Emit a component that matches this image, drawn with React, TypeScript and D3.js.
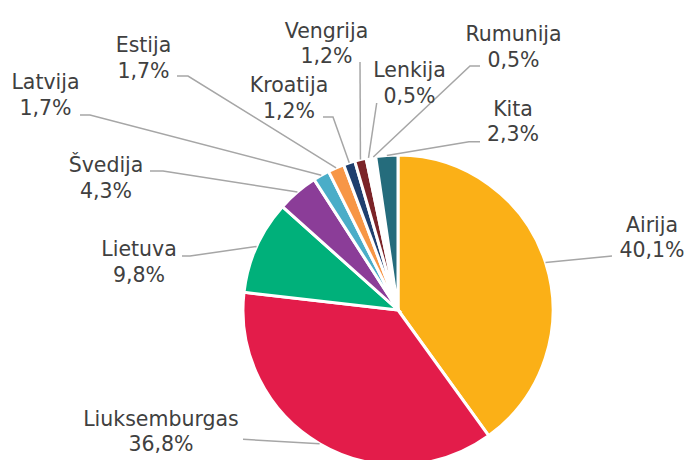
import React from "react";
import * as d3 from "d3";

const categories = ["Airija", "Liuksemburgas", "Lietuva", "Švedija", "Latvija", "Estija", "Kroatija", "Vengrija", "Lenkija", "Rumunija", "Kita"];
const values = [40.1, 36.8, 9.8, 4.3, 1.7, 1.7, 1.2, 1.2, 0.5, 0.5, 2.3];
const valueLabels = ["40,1%", "36,8%", "9,8%", "4,3%", "1,7%", "1,7%", "1,2%", "1,2%", "0,5%", "0,5%", "2,3%"];
const colors = ["#FBB017", "#E31C4A", "#00B07A", "#8B3D98", "#4AADC8", "#F79646", "#1F3F6E", "#7B2428", "#FFFFFF", "#FFFFFF", "#256C7C"];

// label layout: text center x, first baseline y, leader points from label side
const labelLayout: { x: number; y: number; pts: [number, number][] }[] = [
  { x: 652, y: 231.7, pts: [[612, 256]] },
  { x: 161, y: 425.7, pts: [[243, 439.3]] },
  { x: 139, y: 256, pts: [[182, 256], [190, 256]] },
  { x: 106, y: 172, pts: [[150, 171], [163, 171]] },
  { x: 45.5, y: 89, pts: [[80, 115], [90, 115]] },
  { x: 143.5, y: 52, pts: [[177, 76], [188, 76]] },
  { x: 289, y: 92, pts: [[323, 117], [333, 117]] },
  { x: 326.5, y: 37.5, pts: [[360, 62]] },
  { x: 409.5, y: 77, pts: [[376.7, 103]] },
  { x: 513.5, y: 41, pts: [[480, 66], [470, 66]] },
  { x: 513, y: 115.5, pts: [[480, 141.7], [469, 141.7]] },
];

const W = 689;
const H = 460;
const cx = 398;
const cy = 310;
const R = 155;

export default function App() {
  const data = categories.map((c, i) => ({ name: c, value: values[i], label: valueLabels[i], color: colors[i] }));
  const pie = d3.pie<typeof data[0]>().value((d) => d.value).sort(null);
  const arcs = pie(data);
  const arcGen = d3.arc<d3.PieArcDatum<typeof data[0]>>().innerRadius(0).outerRadius(R);
  const line = d3.line();

  return (
    <svg width={W} height={H} style={{ position: "absolute", left: 0, top: 0, background: "#fff" }}>
      <g transform={`translate(${cx},${cy})`}>
        {arcs.map((a, i) => (
          <path key={i} d={arcGen(a) || ""} fill={a.data.color} stroke="#fff" strokeWidth={3} strokeLinejoin="miter" />
        ))}
      </g>
      {arcs.map((a, i) => {
        const mid = (a.startAngle + a.endAngle) / 2;
        const px = cx + R * Math.sin(mid);
        const py = cy - R * Math.cos(mid);
        const L = labelLayout[i];
        const pts: [number, number][] = [...L.pts, [px, py]];
        return (
          <path key={"l" + i} d={line(pts) || ""} fill="none" stroke="#A6A6A6" strokeWidth={1.5} />
        );
      })}
      {arcs.map((a, i) => {
        const L = labelLayout[i];
        return (
          <text key={"t" + i} x={L.x} y={L.y} textAnchor="middle" fontFamily="DejaVu Sans, Verdana, sans-serif" fontSize={20.5} fill="#404040">
            <tspan x={L.x} y={L.y}>{a.data.name}</tspan>
            <tspan x={L.x} y={L.y + 25.5}>{a.data.label}</tspan>
          </text>
        );
      })}
    </svg>
  );
}
